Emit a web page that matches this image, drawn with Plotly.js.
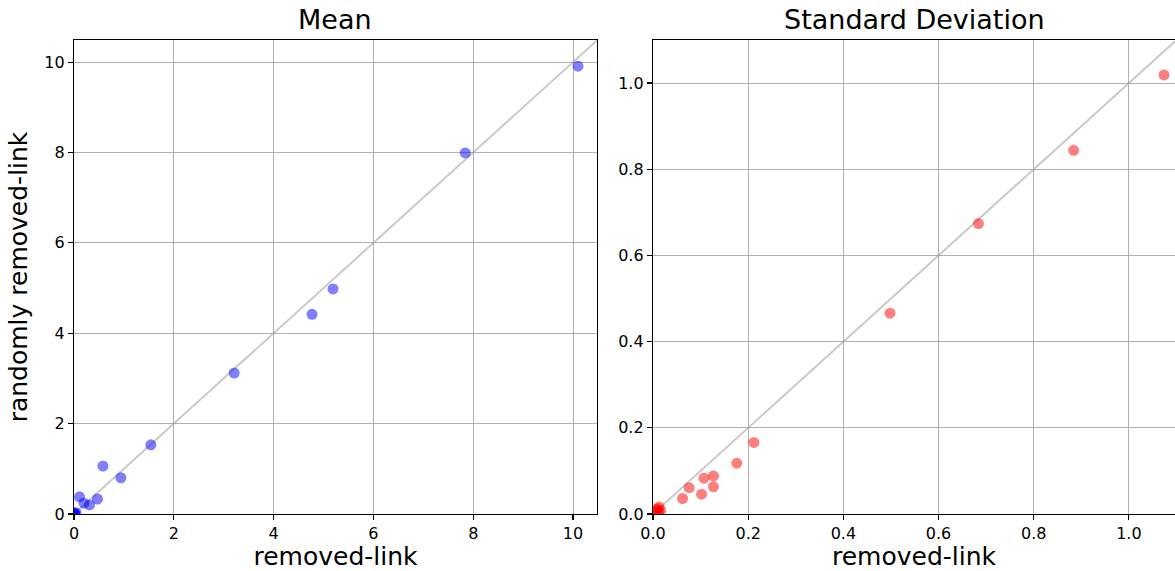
<!DOCTYPE html>
<html>
<head>
<meta charset="utf-8">
<script src="https://cdn.plot.ly/plotly-3.0.1.min.js"></script>
<style>html,body{margin:0;padding:0;background:#fff;}#chart{width:1175px;height:571px;}</style>
</head>
<body>
<div id="chart"></div>
<script>
// Mean panel
const meanRemoved  = [10.10, 7.84, 5.19, 4.77, 3.21, 1.54, 0.58, 0.94, 0.11, 0.47, 0.31, 0.20, 0.04, 0.01, 0.00, 0.02, 0.00];
const meanRandom   = [9.91, 7.99, 4.98, 4.42, 3.12, 1.53, 1.06, 0.80, 0.38, 0.33, 0.20, 0.24, 0.03, 0.01, 0.00, 0.00, 0.02];
// Standard deviation panel
const stdRemoved   = [1.074, 0.884, 0.684, 0.498, 0.212, 0.176, 0.127, 0.107, 0.127, 0.076, 0.102, 0.062, 0.013, 0.016, 0.010, 0.008, 0.012, 0.005];
const stdRandom    = [1.019, 0.844, 0.674, 0.466, 0.166, 0.118, 0.088, 0.083, 0.063, 0.061, 0.046, 0.036, 0.016, 0.008, 0.012, 0.005, 0.004, 0.010];
// identity lines
const diagMean = [0, 11];
const diagStd = [0, 1.2];

const titles = ['Mean', 'Standard Deviation'];
const xLabel = 'removed-link';
const yLabel = 'randomly removed-link';

const F = 'DejaVu Sans, sans-serif';

const traces = [
  {x: diagMean, y: diagMean, mode: 'lines', line: {color: 'rgba(150,150,150,0.5)', width: 2}, xaxis: 'x', yaxis: 'y', hoverinfo: 'skip'},
  {x: meanRemoved, y: meanRandom, mode: 'markers', marker: {color: 'blue', opacity: 0.5, size: 11, line: {width: 0}}, xaxis: 'x', yaxis: 'y'},
  {x: diagStd, y: diagStd, mode: 'lines', line: {color: 'rgba(150,150,150,0.5)', width: 2}, xaxis: 'x2', yaxis: 'y2', hoverinfo: 'skip'},
  {x: stdRemoved, y: stdRandom, mode: 'markers', marker: {color: 'red', opacity: 0.5, size: 11, line: {width: 0}}, xaxis: 'x2', yaxis: 'y2'}
];

const axBase = {
  showgrid: true, gridcolor: '#b0b0b0', gridwidth: 1,
  zeroline: false, showline: true, linecolor: 'black', linewidth: 1.2,
  ticks: 'outside', ticklen: 5, tickwidth: 1.2, tickcolor: 'black',
  tickfont: {family: F, size: 16, color: 'black'}
};

const layout = {
  width: 1175, height: 571,
  margin: {l: 74, r: 0, t: 40, b: 57},
  paper_bgcolor: 'white', plot_bgcolor: 'white',
  showlegend: false,
  font: {family: F, color: 'black'},
  xaxis: Object.assign({}, axBase, {domain: [0, 0.475], range: [0, 10.48], dtick: 2, tick0: 0, mirror: true,
    title: {text: xLabel, font: {family: F, size: 25}, standoff: 3}}),
  yaxis: Object.assign({}, axBase, {domain: [0, 1], range: [0, 10.49], dtick: 2, tick0: 0, mirror: true,
    title: {text: yLabel, font: {family: F, size: 25}, standoff: 9}}),
  xaxis2: Object.assign({}, axBase, {domain: [0.5259, 1], range: [0, 1.097], dtick: 0.2, tick0: 0, tickformat: '.1f', mirror: true, anchor: 'y2',
    title: {text: xLabel, font: {family: F, size: 25}, standoff: 3}}),
  yaxis2: Object.assign({}, axBase, {domain: [0, 1], range: [0, 1.10], dtick: 0.2, tick0: 0, tickformat: '.1f', mirror: false, anchor: 'x2'}),
  annotations: [
    {text: titles[0], xref: 'x domain', yref: 'paper', x: 0.5, y: 1, yanchor: 'bottom', yshift: 3, showarrow: false, font: {family: F, size: 27, color: 'black'}},
    {text: titles[1], xref: 'x2 domain', yref: 'paper', x: 0.5, y: 1, yanchor: 'bottom', yshift: 3, showarrow: false, font: {family: F, size: 27, color: 'black'}}
  ]
};

Plotly.newPlot('chart', traces, layout, {displayModeBar: false, staticPlot: true});
</script>
</body>
</html>
